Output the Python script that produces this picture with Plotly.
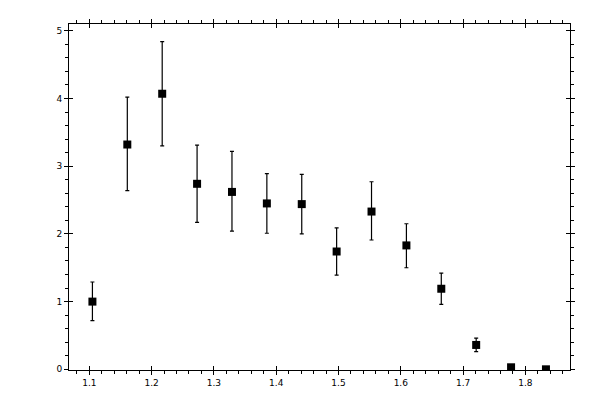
import plotly.graph_objects as go

# data
x_vals = [1.105, 1.161, 1.217, 1.273, 1.329, 1.385, 1.441, 1.497, 1.553, 1.609, 1.665, 1.721, 1.777, 1.833]
y_vals = [1.00, 3.32, 4.07, 2.74, 2.62, 2.45, 2.44, 1.74, 2.33, 1.83, 1.19, 0.36, 0.03, 0.00]
err_plus = [0.29, 0.70, 0.77, 0.57, 0.60, 0.44, 0.44, 0.35, 0.44, 0.32, 0.23, 0.10, 0.0, 0.0]
err_minus = [0.28, 0.68, 0.77, 0.57, 0.58, 0.44, 0.44, 0.35, 0.42, 0.33, 0.23, 0.10, 0.0, 0.0]

x_range = [1.0674, 1.8716]
y_range = [-0.01, 5.10]

fig = go.Figure()
fig.add_trace(go.Scatter(
    x=x_vals, y=y_vals, mode="markers",
    marker=dict(symbol="square", size=8, color="black"),
    error_y=dict(type="data", array=err_plus, arrayminus=err_minus,
                 symmetric=False, color="black", thickness=1.2, width=2),
    showlegend=False,
))
# invisible trace so the overlay axes (inner half of major ticks) get drawn
fig.add_trace(go.Scatter(x=[x_range[0]], y=[y_range[0]], xaxis="x2", yaxis="y2",
                         mode="markers", marker=dict(opacity=0), showlegend=False,
                         hoverinfo="skip"))

font = dict(family="DejaVu Sans", size=9, color="black")
common = dict(showgrid=False, zeroline=False, showline=True, linecolor="black",
              linewidth=1, mirror="ticks", tickcolor="black", tickwidth=1)

# page has an 8px body margin, so keep figure + margin inside the 600x400 window
fig.update_layout(
    width=592, height=392,
    margin=dict(l=61, r=30, t=11, b=30),
    paper_bgcolor="white", plot_bgcolor="white",
    font=font,
    xaxis=dict(range=x_range, tickmode="array", tickvals=[1.1, 1.2, 1.3, 1.4, 1.5, 1.6, 1.7, 1.8],
               ticktext=["1.1", "1.2", "1.3", "1.4", "1.5", "1.6", "1.7", "1.8"],
               ticks="outside", ticklen=4,
               minor=dict(dtick=0.02, tick0=1.0, ticks="outside", ticklen=3,
                          tickcolor="black", showgrid=False),
               **common),
    yaxis=dict(range=y_range, tickmode="array", tickvals=[0, 1, 2, 3, 4, 5],
               ticks="outside", ticklen=4,
               minor=dict(dtick=0.2, tick0=0, ticks="outside", ticklen=3,
                          tickcolor="black", showgrid=False),
               **common),
    xaxis2=dict(range=x_range, overlaying="x", anchor="y2", tickmode="array",
                tickvals=[1.1, 1.2, 1.3, 1.4, 1.5, 1.6, 1.7, 1.8],
                ticks="inside", ticklen=4, showticklabels=False, **common),
    yaxis2=dict(range=y_range, overlaying="y", anchor="x2", tickmode="array",
                tickvals=[0, 1, 2, 3, 4, 5],
                ticks="inside", ticklen=4, showticklabels=False, **common),
)

fig.write_html("out.html")
